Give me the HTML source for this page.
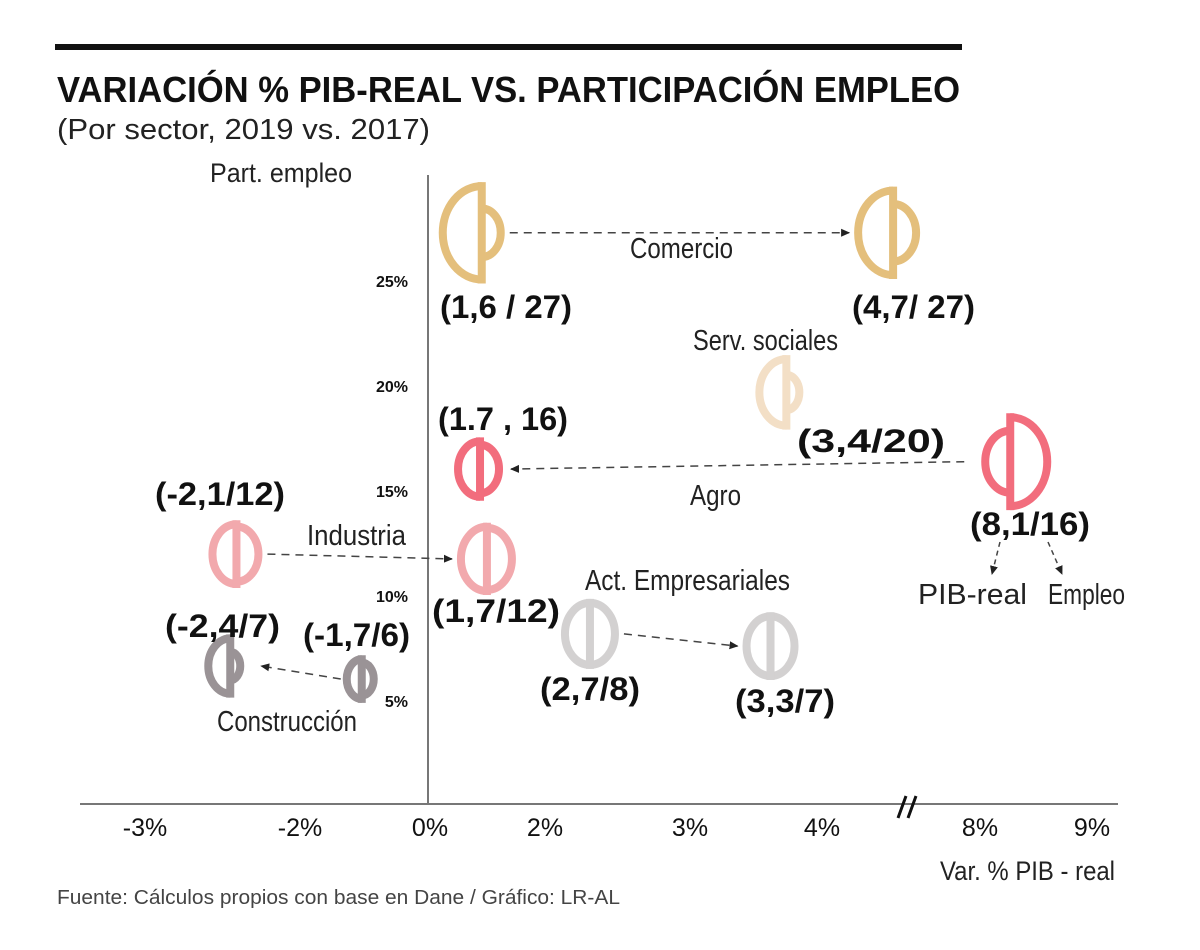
<!DOCTYPE html>
<html><head><meta charset="utf-8">
<style>
html,body{margin:0;padding:0;background:#fff;}
svg{display:block;font-family:"Liberation Sans",sans-serif;}
.lbl{font-weight:bold;font-size:32px;fill:#111;}
.nm{font-size:29px;fill:#222;}
</style></head>
<body>
<svg id="chart" width="1200" height="950" viewBox="0 0 1200 950">
<rect x="55" y="44" width="907" height="6" fill="#111"/>
<text x="57" y="102" font-size="36" font-weight="bold" fill="#111" textLength="903" lengthAdjust="spacingAndGlyphs">VARIACIÓN % PIB-REAL VS. PARTICIPACIÓN EMPLEO</text>
<text x="57" y="139" font-size="29" fill="#222" textLength="373" lengthAdjust="spacingAndGlyphs">(Por sector, 2019 vs. 2017)</text>
<text x="210" y="182" font-size="27" fill="#222" textLength="142" lengthAdjust="spacingAndGlyphs">Part. empleo</text>
<text x="940" y="880" font-size="27" fill="#222" textLength="175" lengthAdjust="spacingAndGlyphs">Var. % PIB - real</text>
<text x="57" y="904" font-size="20" fill="#444" textLength="563" lengthAdjust="spacingAndGlyphs">Fuente: Cálculos propios con base en Dane / Gráfico: LR-AL</text>
<line x1="80" y1="804" x2="1118" y2="804" stroke="#777" stroke-width="2"/>
<line x1="428" y1="175" x2="428" y2="804" stroke="#777" stroke-width="2"/>
<g>
<line x1="898" y1="818" x2="906" y2="796" stroke="#111" stroke-width="3"/>
<line x1="908" y1="818" x2="916" y2="796" stroke="#111" stroke-width="3"/>
</g>
<defs>
<marker id="ah" markerWidth="10" markerHeight="10" refX="8" refY="5" orient="auto" markerUnits="userSpaceOnUse">
<path d="M0,1 L9,5 L0,9 Z" fill="#222"/>
</marker>
</defs>
<g id="ticks"></g>
<g id="arrows"></g>
<g id="marks"></g>
<g id="labels"></g>
</svg>
<script>
// axis config
const xTickVals = [-3, -2, 0, 2, 3, 4, 8, 9];
const xTickLabels = ["-3%", "-2%", "0%", "2%", "3%", "4%", "8%", "9%"];
const yTickVals = [25, 20, 15, 10, 5];
const yTickLabels = ["25%", "20%", "15%", "10%", "5%"];
const sectors = ["Comercio 2017", "Comercio 2019", "Serv. sociales", "Agro 2019", "Agro 2017", "Industria 2017", "Industria 2019", "Act. Empresariales 2017", "Act. Empresariales 2019", "Construcción 2019", "Construcción 2017"];
const pibPos = [0.90, 5.80, 3.73, 0.87, 8.27, -2.41, 0.99, 2.31, 3.61, -2.45, -1.05];
const empPos = [27.2, 27.2, 19.6, 15.95, 16.3, 11.9, 11.67, 8.1, 7.52, 6.57, 5.95];
const pibSize = [42, 38, 30, 25, 28, 27, 29, 28, 27, 25, 18];
const empSize = [22, 26, 16, 22, 40, 25, 28, 28, 27, 13, 15];
const colors = ["#e4bf7c", "#e4bf7c", "#f3dfc6", "#f26d7d", "#f26d7d", "#f2a9ad", "#f2a9ad", "#d3d1d1", "#d3d1d1", "#9a9396", "#9a9396"];
// arrows: from index -> to index
const arrowFrom = [0, 4, 5, 7, 10];
const arrowTo = [1, 3, 6, 8, 9];

const xTickPx = [145, 300, 430, 545, 690, 822, 980, 1092];
function xs(v){
  for(let i=0;i<xTickVals.length-1;i++){
    const a=xTickVals[i], b=xTickVals[i+1];
    if(v<=b || i===xTickVals.length-2){
      return xTickPx[i]+(v-a)/(b-a)*(xTickPx[i+1]-xTickPx[i]);
    }
  }
}
function ys(v){ return 804 - v*21; }

const NS="http://www.w3.org/2000/svg";
function mk(tag, attrs, parent){
  const e=document.createElementNS(NS,tag);
  for(const k in attrs) e.setAttribute(k, attrs[k]);
  parent.appendChild(e); return e;
}
const gT=document.getElementById('ticks');
xTickVals.forEach((v,i)=>{
  const t=mk('text',{x:xs(v),y:836,'text-anchor':'middle','font-size':25,fill:'#111'},gT);
  t.textContent=xTickLabels[i];
  
  
});
yTickVals.forEach((v,i)=>{
  const t=mk('text',{x:408,y:ys(v)+8,'text-anchor':'end','font-size':16,'font-weight':'bold',fill:'#111'},gT);
  t.textContent=yTickLabels[i];
  
  
});

const gM=document.getElementById('marks');
sectors.forEach((s,i)=>{
  const cx=xs(pibPos[i]), cy=ys(empPos[i]);
  const sw=8;
  const rl=pibSize[i]-sw/2+1, rr=empSize[i]-sw/2+1;
  const ryl=rl*1.12+3, ryr=rr*1.12+3;
  const g=mk('g',{},gM);
  
  
  mk('path',{d:`M${cx},${cy-ryl} A${rl},${ryl} 0 0 0 ${cx},${cy+ryl}`,fill:'none',stroke:colors[i],'stroke-width':sw},g);
  mk('path',{d:`M${cx},${cy-ryr} A${rr},${ryr} 0 0 1 ${cx},${cy+ryr}`,fill:'none',stroke:colors[i],'stroke-width':sw},g);
  const h=Math.max(ryl,ryr)+sw/2;
  mk('line',{x1:cx,y1:cy-h,x2:cx,y2:cy+h,stroke:colors[i],'stroke-width':sw},g);
});

const gA=document.getElementById('arrows');
arrowFrom.forEach((f,i)=>{
  const t=arrowTo[i];
  const x1=xs(pibPos[f]), y1=ys(empPos[f]), x2=xs(pibPos[t]), y2=ys(empPos[t]);
  const dir=Math.sign(x2-x1);
  const sx=x1+dir*(empSize[f]+6), ex=x2-dir*(pibSize[t]+6);
  const l=mk('line',{x1:sx,y1:y1,x2:ex,y2:y2,stroke:'#444','stroke-width':1.5,'stroke-dasharray':'8,6','marker-end':'url(#ah)'},gA);
  
  
});
[[1000,542,992,574],[1048,542,1062,574]].forEach(a=>{
  const l=mk('line',{x1:a[0],y1:a[1],x2:a[2],y2:a[3],stroke:'#444','stroke-width':1.5,'stroke-dasharray':'5,4','marker-end':'url(#ah)'},gA);
  
  
});

const gL=document.getElementById('labels');
const labelTexts=[
 ["(1,6 / 27)",440,318,132,'lbl'],["(4,7/ 27)",852,318,123,'lbl'],["Comercio",630,258,103,'nm'],
 ["Serv. sociales",693,350,145,'nm'],["(3,4/20)",797,452,148,'lbl'],["(1.7 , 16)",438,430,130,'lbl'],
 ["Agro",690,505,51,'nm'],["(8,1/16)",970,535,120,'lbl'],["PIB-real",918,604,109,'nm'],["Empleo",1048,604,77,'nm'],
 ["(-2,1/12)",155,505,130,'lbl'],["Industria",307,545,99,'nm'],["(1,7/12)",432,622,128,'lbl'],
 ["Act. Empresariales",585,590,205,'nm'],["(-2,4/7)",165,637,115,'lbl'],["(-1,7/6)",303,646,107,'lbl'],
 ["Construcción",217,731,140,'nm'],["(2,7/8)",540,700,100,'lbl'],["(3,3/7)",735,712,100,'lbl']
];
labelTexts.forEach(d=>{
  const t=mk('text',{x:d[1],y:d[2],class:d[4],textLength:d[3],lengthAdjust:'spacingAndGlyphs'},gL);
  t.textContent=d[0];
  
  
});
</script>
</body></html>
